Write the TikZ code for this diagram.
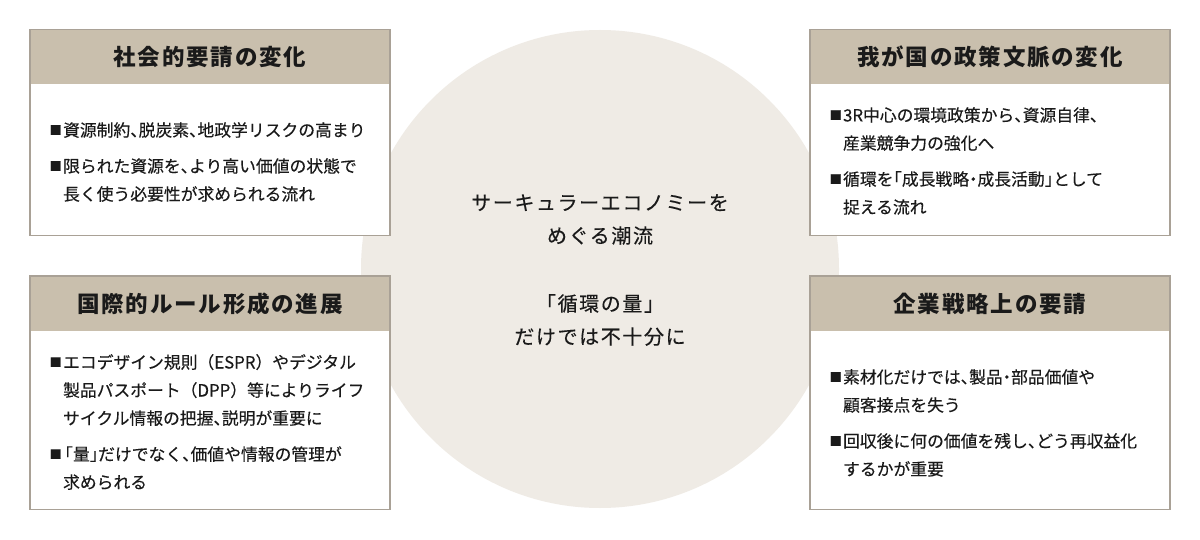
\documentclass[tikz,border=0pt]{standalone}
\usepackage{fontspec}
\setmainfont{Noto Sans CJK JP}
\definecolor{hdr}{HTML}{C9BFAD}
\definecolor{bdr}{HTML}{A9A196}
\definecolor{circ}{HTML}{EFEBE5}
\definecolor{txt}{HTML}{1A1A1A}
\newcommand\bul{\makebox[13.4pt][l]{\raisebox{1.8pt}{\fontsize{12}{12}\selectfont ■}}}
\newcommand\ind{\hspace*{13.4pt}}
\newcommand\hw[1]{{\addfontfeatures{RawFeature=+halt}#1}}
\newcommand\tc{\hw{、}}
\newcommand\lk{\hw{「}}
\newcommand\rk{\hw{」}}
\newcommand\nk{\hw{・}}
\tikzset{
  hdrfill/.style={fill=hdr, draw=none},
  bodyfill/.style={fill=white, draw=none},
  frame/.style={draw=bdr, line width=1.6pt, fill=none},
  hdrtext/.style={font=\fontsize{22.5}{26}\selectfont\bfseries\addfontfeatures{LetterSpace=8}, text=txt, inner sep=0pt, anchor=center},
  bodytext/.style={font=\fontsize{16.8}{28}\selectfont\addfontfeatures{FakeBold=0.3}, text=txt, inner sep=0pt, anchor=west, align=left},
  centertext/.style={font=\fontsize{20}{33}\selectfont\addfontfeatures{LetterSpace=8,FakeBold=0.3}, text=txt, inner sep=0pt, align=center},
}
\begin{document}
\begin{tikzpicture}[x=1pt,y=-1pt]
\useasboundingbox (0,0) rectangle (1200,540);
\fill[white] (0,0) rectangle (1200,540);
% central circle
\fill[circ] (600,269) circle (239);
% box shapes
\foreach \x/\ya/\yh/\yb in {30/29.5/84/235.5, 810/29.5/84/235.5, 30/276/331/509.5, 810/276/331/509.5}{
  \path[hdrfill] (\x,\ya) rectangle (\x+360,\yh);
  \path[bodyfill] (\x,\yh) rectangle (\x+360,\yb);
  \path[frame] (\x,\ya) rectangle (\x+360,\yb);
}
% headers
\node[hdrtext] (h1) at (210,57) {社会的要請の変化};
\node[hdrtext] (h2) at (990,57) {我が国の政策文脈の変化};
\node[hdrtext] (h3) at (210,303.5) {国際的ルール形成の進展};
\node[hdrtext] (h4) at (990,303.5) {企業戦略上の要請};
% bodies
\node[bodytext] (b1) at (49.5,162) {\bul 資源制約\tc 脱炭素\tc 地政学リスクの高まり\\[8pt]\bul 限られた資源を\tc より高い価値の状態で\\\ind 長く使う必要性が求められる流れ};
\node[bodytext] (b2) at (829.5,161) {\bul 3R中心の環境政策から\tc 資源自律\tc\\\ind 産業競争力の強化へ\\[8pt]\bul 循環を\lk 成長戦略\nk 成長活動\rk として\\\ind 捉える流れ};
\node[bodytext] (b3) at (49.5,422) {\bul エコデザイン規則（ESPR）やデジタル\\\ind 製品パスポート（DPP）等によりライフ\\\ind サイクル情報の把握\tc 説明が重要に\\[8pt]\bul\hspace{1.5pt}\lk 量\rk だけでなく\tc 価値や情報の管理が\\\ind 求められる};
\node[bodytext] (b4) at (829.5,423) {\bul 素材化だけでは\tc 製品\nk 部品価値や\\\ind 顧客接点を失う\\[8pt]\bul 回収後に何の価値を残し\tc どう再収益化\\\ind するかが重要};
% center text
\node[centertext] (c) at (600,270) {サーキュラーエコノミーを\\めぐる潮流\\[35pt]「循環の量」\\だけでは不十分に};
\end{tikzpicture}
\end{document}
